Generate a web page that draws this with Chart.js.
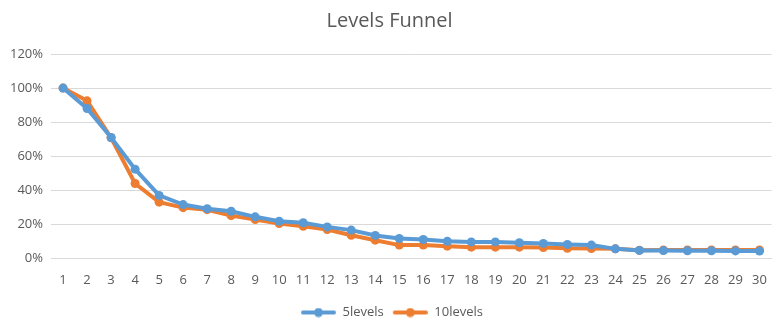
<!DOCTYPE html>
<html>
<head>
<meta charset="utf-8">
<script src="https://cdn.jsdelivr.net/npm/chart.js@4"></script>
<style>
  html, body { margin: 0; padding: 0; background: #fff; }
  #wrap { width: 776px; height: 329px; }
</style>
</head>
<body>
<div id="wrap"><canvas id="funnel"></canvas></div>
<script>
const levels = ["1","2","3","4","5","6","7","8","9","10","11","12","13","14","15",
  "16","17","18","19","20","21","22","23","24","25","26","27","28","29","30"];
const fiveLevels = [100, 88, 71, 52.4, 37, 31.6, 29.2, 27.7, 24.4, 21.8, 20.9, 18.5, 16.6, 13.5, 11.7,
  11.1, 10.1, 9.7, 9.7, 9.2, 8.8, 8.2, 7.8, 5.6, 4.7, 4.6, 4.5, 4.5, 4.4, 4.3];
const tenLevels = [100, 92.5, 70.8, 44, 33, 29.8, 28.6, 25.1, 22.8, 20.5, 18.9, 17, 13.6, 10.7, 7.8,
  7.8, 7.2, 6.6, 6.6, 6.6, 6.4, 5.9, 5.8, 5.6, 4.8, 4.9, 4.9, 4.9, 4.9, 4.9];

const blue = "#5B9BD5";
const orange = "#ED7D31";
const textColor = "#595959";
const fontFamily = "'Open Sans', 'Liberation Sans', sans-serif";

// legend sample: line with a dot in the middle (extra blank space on the left)
function legendMark(color) {
  const c = document.createElement("canvas");
  c.width = 40; c.height = 10;
  const ctx = c.getContext("2d");
  ctx.strokeStyle = color;
  ctx.lineWidth = 4;
  ctx.lineCap = "round";
  ctx.beginPath();
  ctx.moveTo(7, 5); ctx.lineTo(38, 5);
  ctx.stroke();
  ctx.fillStyle = color;
  ctx.beginPath();
  ctx.arc(22.5, 5, 4.5, 0, Math.PI * 2);
  ctx.fill();
  return c;
}
const marks = [legendMark(blue), legendMark(orange)];

new Chart(document.getElementById("funnel"), {
  type: "line",
  data: {
    labels: levels,
    datasets: [
      {
        label: "5levels",
        data: fiveLevels,
        borderColor: blue,
        backgroundColor: blue,
        borderWidth: 4,
        pointRadius: 4.5,
        pointHoverRadius: 4.5,
        pointBorderWidth: 0,
        tension: 0,
      },
      {
        label: "10levels",
        data: tenLevels,
        borderColor: orange,
        backgroundColor: orange,
        borderWidth: 4,
        pointRadius: 4.5,
        pointHoverRadius: 4.5,
        pointBorderWidth: 0,
        tension: 0,
      },
    ],
  },
  options: {
    responsive: true,
    maintainAspectRatio: false,
    animation: false,
    layout: { padding: { left: 2, right: -1, top: 0, bottom: 0 } },
    scales: {
      x: {
        offset: true,
        grid: { display: false, drawTicks: false },
        border: { display: true, color: "#D9D9D9" },
        ticks: {
          color: textColor,
          font: { family: fontFamily, size: 13 },
          padding: 14,
          maxRotation: 0,
          autoSkip: false,
        },
        afterFit: (scale) => { scale.paddingRight = 0; },
      },
      y: {
        min: 0,
        max: 120,
        grid: { color: "#D9D9D9", drawTicks: false },
        border: { display: false },
        ticks: {
          stepSize: 20,
          color: textColor,
          font: { family: fontFamily, size: 13 },
          padding: 8,
          callback: (v) => v + "%",
        },
      },
    },
    plugins: {
      title: {
        display: true,
        text: "Levels Funnel",
        color: textColor,
        font: { family: fontFamily, size: 20, weight: "normal" },
        padding: { top: 9, bottom: 21 },
      },
      legend: {
        position: "bottom",
        labels: {
          color: textColor,
          font: { family: fontFamily, size: 13 },
          usePointStyle: true,
          pointStyleWidth: 40,
          padding: 4,
          generateLabels: (chart) =>
            Chart.defaults.plugins.legend.labels.generateLabels(chart).map((item, i) => {
              item.pointStyle = marks[i];
              return item;
            }),
        },
      },
      tooltip: { enabled: false },
    },
  },
});
</script>
</body>
</html>
